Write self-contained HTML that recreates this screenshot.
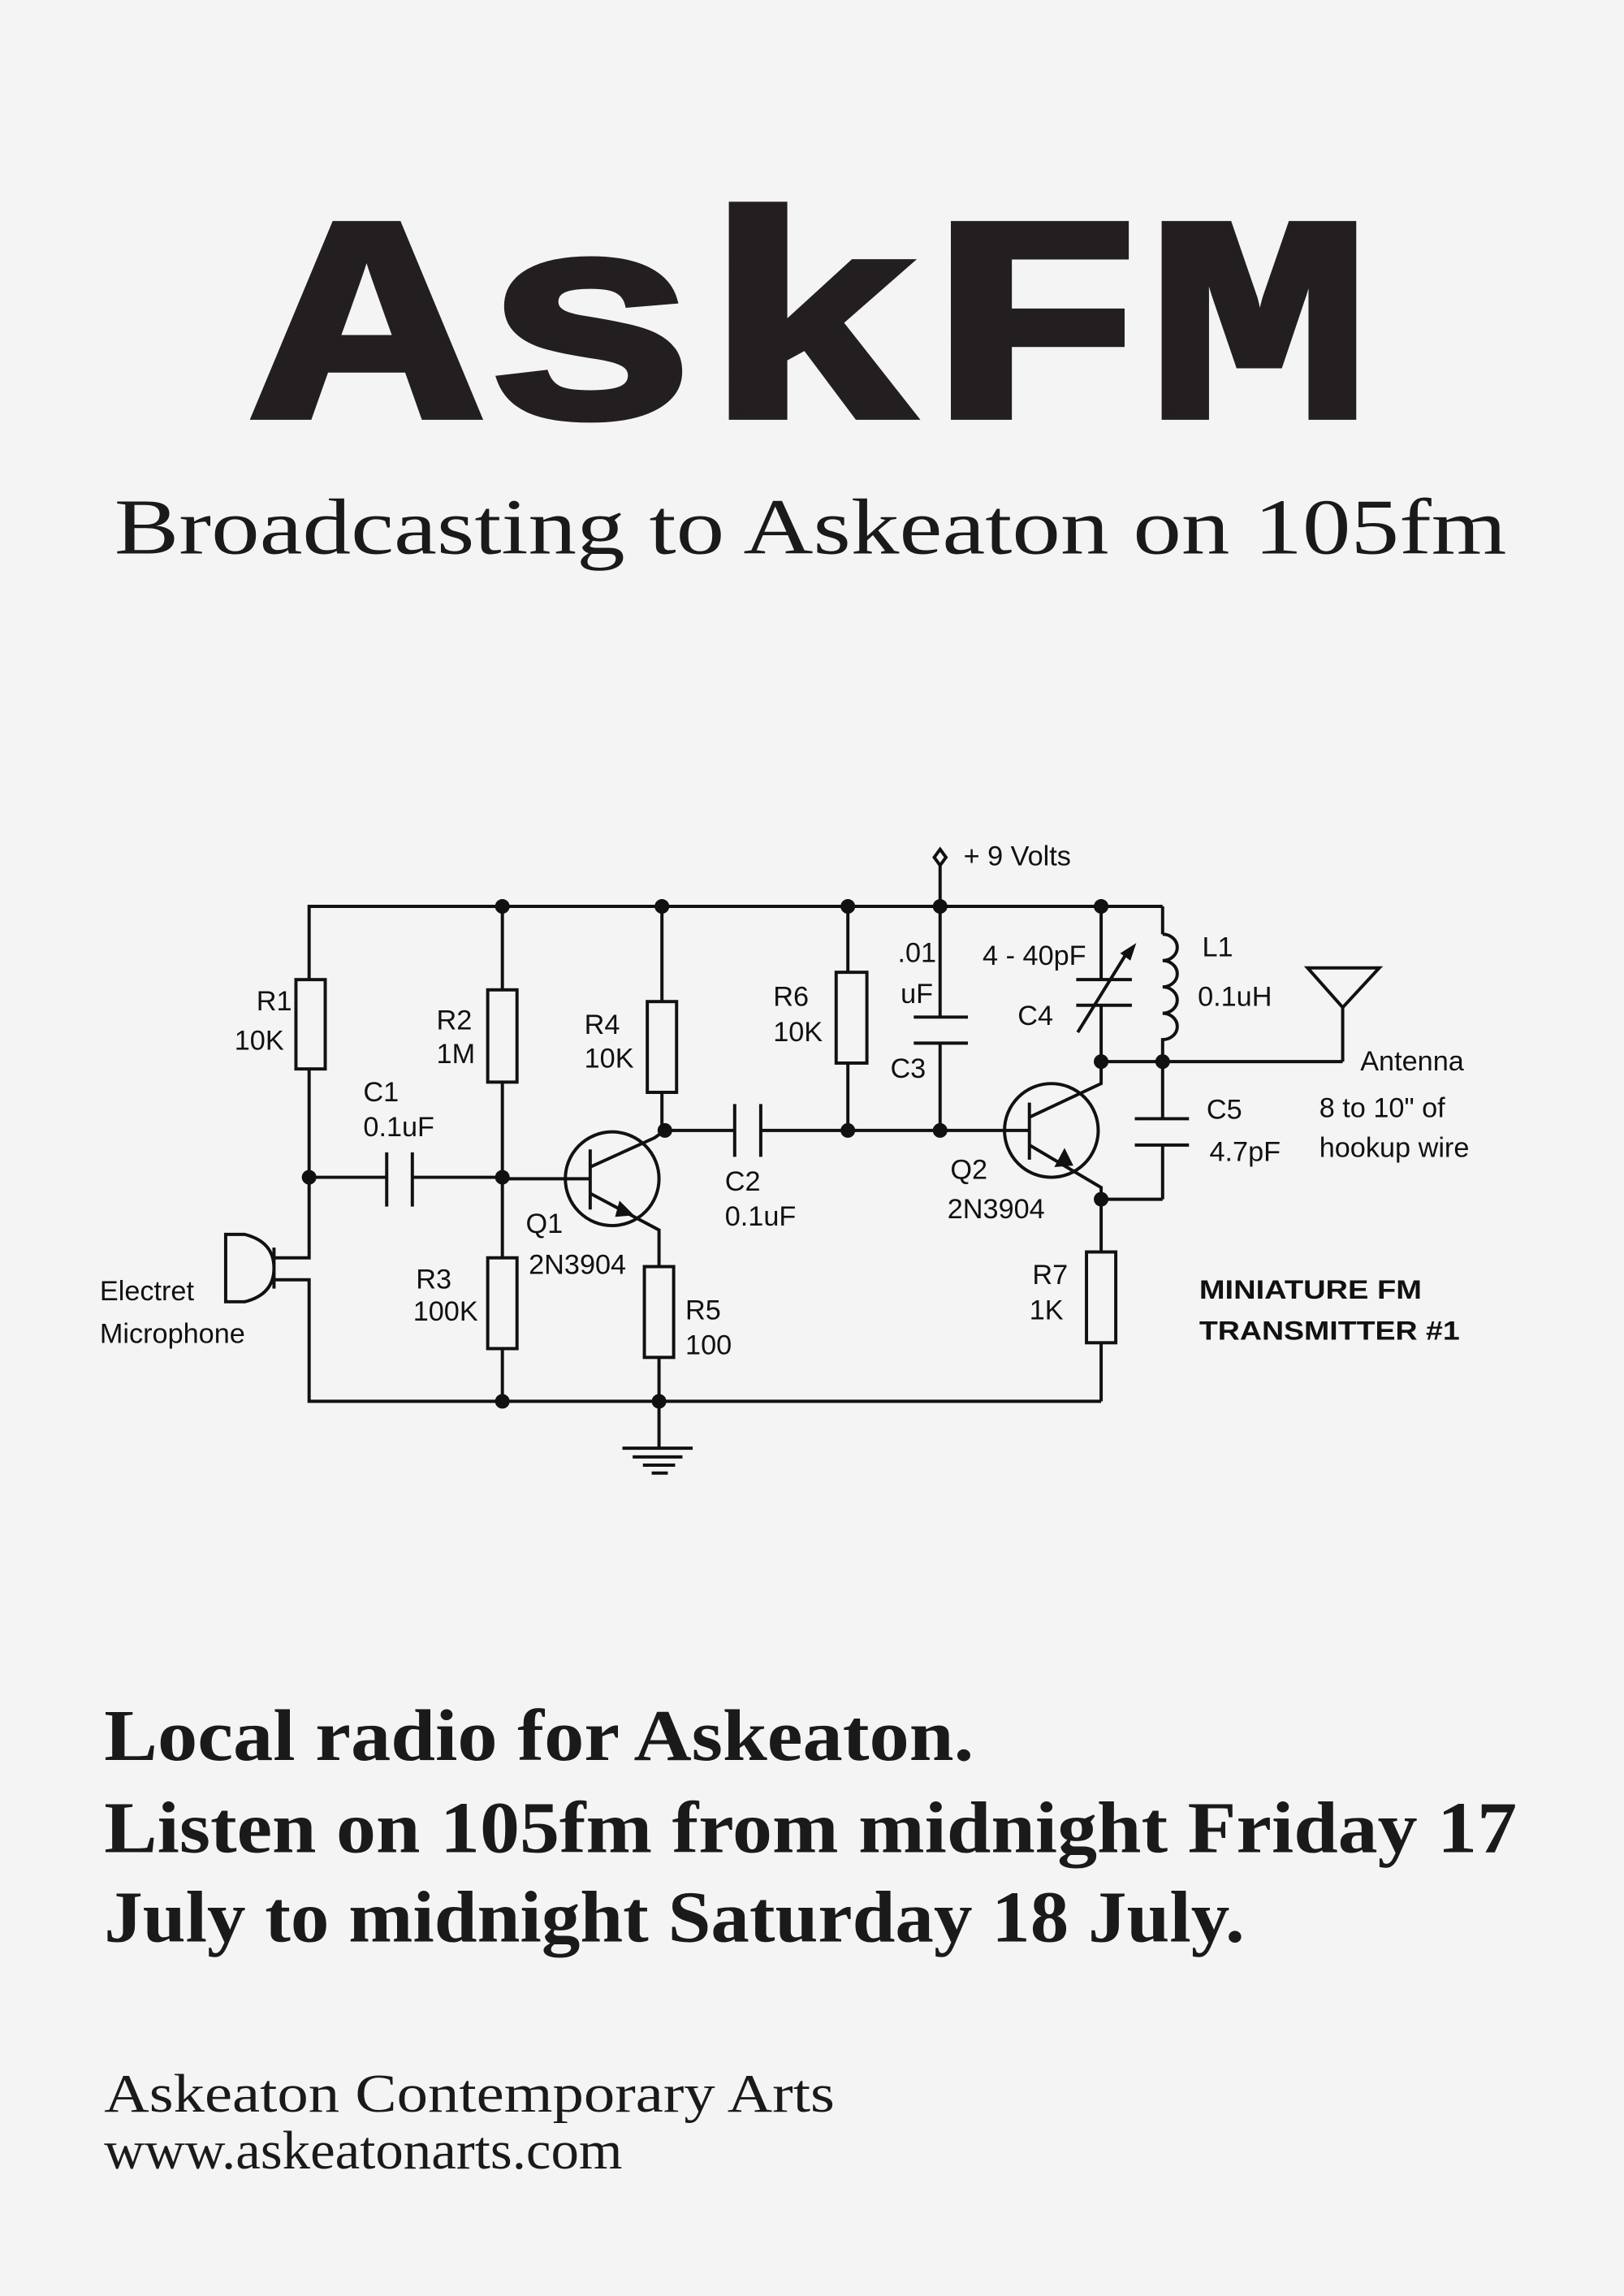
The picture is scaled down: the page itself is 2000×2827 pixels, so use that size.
<!DOCTYPE html>
<html><head><meta charset="utf-8"><style>
html,body{margin:0;padding:0;background:#f4f4f4}
svg{display:block}
.l{font-family:"Liberation Sans",sans-serif;font-size:19px;fill:#111}
</style></head><body>
<svg width="2000" height="2827" viewBox="0 0 1109 1568" xmlns="http://www.w3.org/2000/svg">
<rect width="1109" height="1568" fill="#f4f4f4"/>
<text x="174" y="284.7" font-family="Liberation Mono,monospace" font-weight="bold" font-size="200" textLength="762" lengthAdjust="spacingAndGlyphs" fill="#231f20" stroke="#231f20" stroke-width="4">AskFM</text>
<text x="78" y="378" font-family="Liberation Serif,serif" font-size="54" textLength="951" lengthAdjust="spacingAndGlyphs" fill="#1a1a1a">Broadcasting to Askeaton on 105fm</text>

<g stroke="#111" stroke-width="2.2" fill="none">
<polyline points="211,668 211,619 752,619"/>
<line x1="752" y1="619" x2="794" y2="619"/>
<line x1="794" y1="619" x2="794" y2="638"/>
<polyline points="211,730 211,859 187,859"/>
<polyline points="187,874 211,874 211,957 752,957"/>
<path d="M187,852 L187,880 M154,843 L167,843 Q187,848 187,866 Q187,884 167,889 L154,889 Z"/>
<rect x="202" y="669" width="20" height="61"/>
<line x1="211" y1="804" x2="264" y2="804"/><line x1="281.5" y1="804" x2="343" y2="804"/>
<line x1="264" y1="787" x2="264" y2="824"/><line x1="281.5" y1="787" x2="281.5" y2="824"/>
<line x1="343" y1="619" x2="343" y2="676"/><rect x="333" y="676" width="20" height="63"/>
<line x1="343" y1="739" x2="343" y2="859"/><rect x="333" y="859" width="20" height="62"/>
<line x1="343" y1="921" x2="343" y2="957"/>
<line x1="343" y1="805" x2="403" y2="805"/>
<circle cx="418" cy="805" r="32"/>
<line x1="403" y1="785" x2="403" y2="826"/>
<polyline points="403,797 447,777 454,772"/>
<polyline points="403,815 450,840 450,865"/>
<line x1="452" y1="619" x2="452" y2="684"/><rect x="442" y="684" width="20" height="62"/>
<line x1="452" y1="746" x2="452" y2="772"/>
<line x1="452" y1="772" x2="501.7" y2="772"/><line x1="519.5" y1="772" x2="642" y2="772"/>
<line x1="501.7" y1="754" x2="501.7" y2="790"/><line x1="519.5" y1="754" x2="519.5" y2="790"/>
<rect x="440" y="865" width="20" height="62"/><line x1="450" y1="927" x2="450" y2="989"/>
<line x1="425" y1="989" x2="473" y2="989"/><line x1="432" y1="995" x2="466" y2="995"/>
<line x1="439" y1="1000.6" x2="461" y2="1000.6"/><line x1="445" y1="1006" x2="456" y2="1006"/>
<line x1="579" y1="619" x2="579" y2="664"/><rect x="571" y="664" width="21" height="62"/>
<line x1="579" y1="726" x2="579" y2="772"/>
<line x1="642" y1="590" x2="642" y2="694.6"/><line x1="642" y1="712.4" x2="642" y2="772"/>
<line x1="624" y1="694.6" x2="661" y2="694.6"/><line x1="624" y1="712.4" x2="661" y2="712.4"/>
<path d="M642,580 L646,585.5 L642,591 L638,585.5 Z" fill="#f4f4f4"/>
<line x1="642" y1="772" x2="703" y2="772"/>
<circle cx="718" cy="772" r="32"/>
<line x1="703" y1="753" x2="703" y2="792"/>
<polyline points="703,763 752,740 752,725"/>
<polyline points="703,782 752,811 752,819"/>
<line x1="752" y1="619" x2="752" y2="669"/><line x1="752" y1="686.5" x2="752" y2="725"/>
<line x1="735" y1="669" x2="773" y2="669"/><line x1="735" y1="686.5" x2="773" y2="686.5"/>
<line x1="736" y1="705" x2="770" y2="650"/>
<path d="M794,638 a10,9 0 0 1 0,18 a10,9 0 0 1 0,18 a10,9 0 0 1 0,18 a10,9 0 0 1 0,18 L794,725"/>
<line x1="752" y1="725" x2="917" y2="725"/>
<polyline points="917,725 917,688"/>
<path d="M893,661 L942,661 L917,688 Z"/>
<line x1="794" y1="725" x2="794" y2="764"/><line x1="794" y1="782" x2="794" y2="819"/>
<line x1="775" y1="764" x2="812" y2="764"/><line x1="775" y1="782" x2="812" y2="782"/>
<line x1="794" y1="819" x2="752" y2="819"/>
<line x1="752" y1="819" x2="752" y2="855"/><rect x="742" y="855" width="20" height="62"/>
<line x1="752" y1="917" x2="752" y2="957"/>
</g>
<g fill="#111">
<path d="M776,644 L772,656 L765,651 Z"/>
<path d="M423,820 L433,830 L420,831 Z"/>
<path d="M727,784 L733,796 L720,797 Z"/>
<circle cx="343" cy="619" r="5"/><circle cx="452" cy="619" r="5"/><circle cx="579" cy="619" r="5"/>
<circle cx="642" cy="619" r="5"/><circle cx="752" cy="619" r="5"/>
<circle cx="211" cy="804" r="5"/><circle cx="343" cy="804" r="5"/><circle cx="454" cy="772" r="5"/>
<circle cx="579" cy="772" r="5"/><circle cx="642" cy="772" r="5"/>
<circle cx="752" cy="725" r="5"/><circle cx="794" cy="725" r="5"/><circle cx="752" cy="819" r="5"/>
<circle cx="343" cy="957" r="5"/><circle cx="450" cy="957" r="5"/>
</g>
<g class="l">
<text class="l" x="658" y="591" font-size="17">+ 9 Volts</text>
<text class="l" x="175" y="690">R1</text><text class="l" x="160" y="717">10K</text>
<text class="l" x="248" y="752">C1</text><text class="l" x="248" y="776">0.1uF</text>
<text class="l" x="298" y="703">R2</text><text class="l" x="298" y="726">1M</text>
<text class="l" x="399" y="706">R4</text><text class="l" x="399" y="729">10K</text>
<text class="l" x="284" y="880">R3</text><text class="l" x="282" y="902">100K</text>
<text class="l" x="359" y="842">Q1</text><text class="l" x="361" y="870">2N3904</text>
<text class="l" x="468" y="901">R5</text><text class="l" x="468" y="925">100</text>
<text class="l" x="495" y="813">C2</text><text class="l" x="495" y="837">0.1uF</text>
<text class="l" x="528" y="687">R6</text><text class="l" x="528" y="711">10K</text>
<text class="l" x="613" y="657">.01</text><text class="l" x="615" y="685">uF</text>
<text class="l" x="608" y="736">C3</text>
<text class="l" x="671" y="659">4 - 40pF</text><text class="l" x="695" y="700">C4</text>
<text class="l" x="821" y="653">L1</text><text class="l" x="818" y="687">0.1uH</text>
<text class="l" x="929" y="731">Antenna</text>
<text class="l" x="901" y="763">8 to 10" of</text><text class="l" x="901" y="790">hookup wire</text>
<text class="l" x="824" y="764">C5</text><text class="l" x="826" y="793">4.7pF</text>
<text class="l" x="649" y="805">Q2</text><text class="l" x="647" y="832">2N3904</text>
<text class="l" x="705" y="877">R7</text><text class="l" x="703" y="901">1K</text>
<text class="l" x="68" y="888">Electret</text><text class="l" x="68" y="917">Microphone</text>
<text x="819" y="887" font-family="Liberation Sans,sans-serif" font-weight="bold" font-size="18" textLength="152" lengthAdjust="spacingAndGlyphs">MINIATURE FM</text>
<text x="819" y="915" font-family="Liberation Sans,sans-serif" font-weight="bold" font-size="18" textLength="178" lengthAdjust="spacingAndGlyphs">TRANSMITTER #1</text>
</g>
<g font-family="Liberation Serif,serif" font-weight="bold" font-size="50" fill="#1a1a1a">
<text x="71" y="1202" textLength="594" lengthAdjust="spacingAndGlyphs">Local radio for Askeaton.</text>
<text x="71" y="1265" textLength="965" lengthAdjust="spacingAndGlyphs">Listen on 105fm from midnight Friday 17</text>
<text x="71" y="1326" textLength="779" lengthAdjust="spacingAndGlyphs">July to midnight Saturday 18 July.</text>
</g>
<g font-family="Liberation Serif,serif" font-size="37" fill="#1a1a1a">
<text x="71" y="1442" textLength="499" lengthAdjust="spacingAndGlyphs">Askeaton Contemporary Arts</text>
<text x="71" y="1481" textLength="354" lengthAdjust="spacingAndGlyphs">www.askeatonarts.com</text>
</g>
</svg>
</body></html>
